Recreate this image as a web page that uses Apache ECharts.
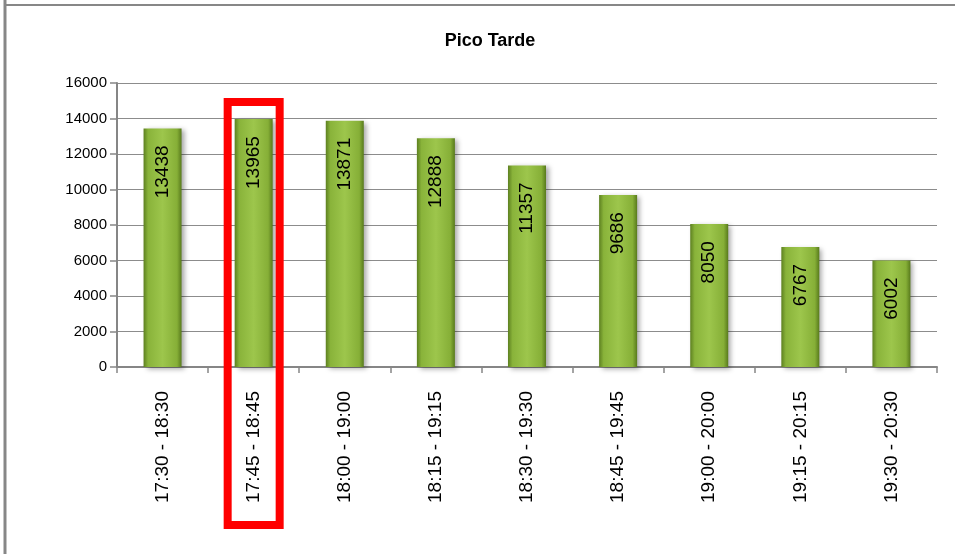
<!DOCTYPE html>
<html>
<head>
<meta charset="utf-8">
<script src="https://cdn.jsdelivr.net/npm/echarts@6/dist/echarts.min.js"></script>
<style>
html,body{margin:0;padding:0;background:#fff;}
#c{width:955px;height:554px;}
</style>
</head>
<body>
<div id="c"></div>
<script>
var categories = ['17:30 - 18:30','17:45 - 18:45','18:00 - 19:00','18:15 - 19:15','18:30 - 19:30','18:45 - 19:45','19:00 - 20:00','19:15 - 20:15','19:30 - 20:30'];
var values = [13438, 13965, 13871, 12888, 11357, 9686, 8050, 6767, 6002];
var yTicks = {min: 0, max: 16000, interval: 2000};
var highlightIndex = 1;

var chart = echarts.init(document.getElementById('c'));
var font = '"Liberation Sans", Arial, sans-serif';
var barColor = new echarts.graphic.LinearGradient(0, 0, 1, 0, [
  {offset: 0, color: '#5d8020'},
  {offset: 0.12, color: '#89b33a'},
  {offset: 0.5, color: '#9dc64c'},
  {offset: 0.88, color: '#86af37'},
  {offset: 1, color: '#587a1c'}
]);
chart.setOption({
  animation: false,
  title: {
    text: 'Pico Tarde', left: 485, top: 27, textAlign: 'center',
    textStyle: {fontFamily: font, fontSize: 18, fontWeight: 'bold', color: '#000'}
  },
  grid: {left: 117, right: 18, top: 83, bottom: 187, containLabel: false},
  xAxis: {
    type: 'category', data: categories,
    axisLine: {lineStyle: {color: '#868686', width: 2}},
    axisTick: {show: true, length: 6, lineStyle: {color: '#868686', width: 1.5}},
    axisLabel: {rotate: 90, margin: 24, color: '#000', fontFamily: font, fontSize: 19}
  },
  yAxis: {
    type: 'value', min: yTicks.min, max: yTicks.max, interval: yTicks.interval,
    axisLine: {show: true, lineStyle: {color: '#868686', width: 2}},
    axisTick: {show: true, inside: false, length: 7, lineStyle: {color: '#868686', width: 1.5}},
    splitLine: {lineStyle: {color: '#8c8c8c', width: 1}},
    axisLabel: {margin: 10, color: '#000', fontFamily: font, fontSize: 15, formatter: function (v) { return String(v); }}
  },
  series: [{
    type: 'bar', data: values, barWidth: 38,
    itemStyle: {color: barColor, shadowColor: 'rgba(0,0,0,0.35)', shadowBlur: 5, shadowOffsetX: 3, shadowOffsetY: 2},
    label: {
      show: true, position: 'insideTop', rotate: 90, align: 'right', verticalAlign: 'middle',
      distance: 17, color: '#000', fontFamily: font, fontSize: 19,
      formatter: function (p) { return String(p.value); }
    }
  }]
});

// Highlight box around the selected category, positioned from the axis scale
var pc = chart.convertToPixel({xAxisIndex: 0, yAxisIndex: 0}, [highlightIndex, values[highlightIndex]]);
var p0 = chart.convertToPixel({xAxisIndex: 0, yAxisIndex: 0}, [highlightIndex, 0]);
chart.setOption({
  graphic: [
    {type: 'rect', shape: {x: pc[0] - 26, y: pc[1] - 17, width: 52, height: (p0[1] + 158) - (pc[1] - 17)},
     style: {fill: 'none', stroke: '#ff0000', lineWidth: 8}, z: 100},
    {type: 'line', shape: {x1: 5, y1: 0, x2: 5, y2: 554}, style: {stroke: '#878787', lineWidth: 3}, z: 100},
    {type: 'line', shape: {x1: 4, y1: 5, x2: 955, y2: 5}, style: {stroke: '#878787', lineWidth: 2}, z: 100}
  ]
});
</script>
</body>
</html>
